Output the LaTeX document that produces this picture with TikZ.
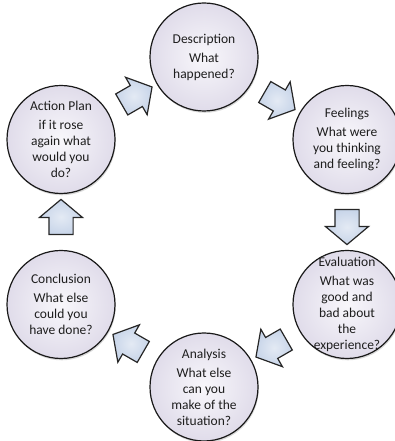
\documentclass[tikz,border=0pt]{standalone}
\usepackage{fontspec}
\setmainfont{Carlito}
\usetikzlibrary{shapes.arrows,shadows}
\definecolor{lav}{RGB}{224,220,234}
\definecolor{lavin}{RGB}{248,247,251}
\definecolor{arrfill}{RGB}{200,213,233}
\definecolor{ink}{RGB}{30,30,30}
\tikzset{
 bubble/.style={circle, minimum size=108pt, inner sep=0pt, draw=black!90, line width=1.2pt,
   inner color=lavin, outer color=lav,
   drop shadow={shadow xshift=0.8pt, shadow yshift=-1.8pt, opacity=0.3}},
 bubbletext/.style={align=center, font=\fontsize{13.5}{16}\selectfont, text=ink},
 cyclearrow/.style={single arrow, sloped, allow upside down, draw=black!85, line width=1.2pt,
   inner color=arrfill!50, outer color=arrfill, minimum height=35pt, inner xsep=0pt, inner ysep=11.5pt,
   single arrow head extend=9.5pt, single arrow tip angle=100, anchor=center},
}
\begin{document}
\begin{tikzpicture}[x=1pt,y=1pt]
\useasboundingbox (0,0) rectangle (394,441);
% bubbles
\node[bubble] (desc) at (204,384) {};
\node[bubble] (feel) at (347,301.5) {};
\node[bubble] (eval) at (347,136.5) {};
\node[bubble] (anal) at (204,54) {};
\node[bubble] (conc) at (61,136.5) {};
\node[bubble] (act)  at (61,301.5) {};
% texts
\node[bubbletext] (desct) at (desc) {Description\\[3pt]What\\happened?};
\node[bubbletext] (feelt) at (feel) {Feelings\\[3pt]What were\\you thinking\\and feeling?};
\node[bubbletext] (evalt) at (eval) {Evaluation\\[3pt]What was\\good and\\bad about\\the\\experience?};
\node[bubbletext] (analt) at (anal) {Analysis\\[3pt]What else\\can you\\make of the\\situation?};
\node[bubbletext] (conct) at (conc) {Conclusion\\[3pt]What else\\could you\\have done?};
\node[bubbletext] (actt)  at (act)  {Action Plan\\[3pt]if it rose\\again what\\would you\\do?};
% arrows
\path (desc) -- node[cyclearrow] (a1) {} (feel);
\path (feel) -- node[cyclearrow] (a2) {} (eval);
\path (eval) -- node[cyclearrow] (a3) {} (anal);
\path (anal) -- node[cyclearrow] (a4) {} (conc);
\path (conc) -- node[cyclearrow] (a5) {} (act);
\path (act)  -- node[cyclearrow] (a6) {} (desc);
\end{tikzpicture}
\end{document}
